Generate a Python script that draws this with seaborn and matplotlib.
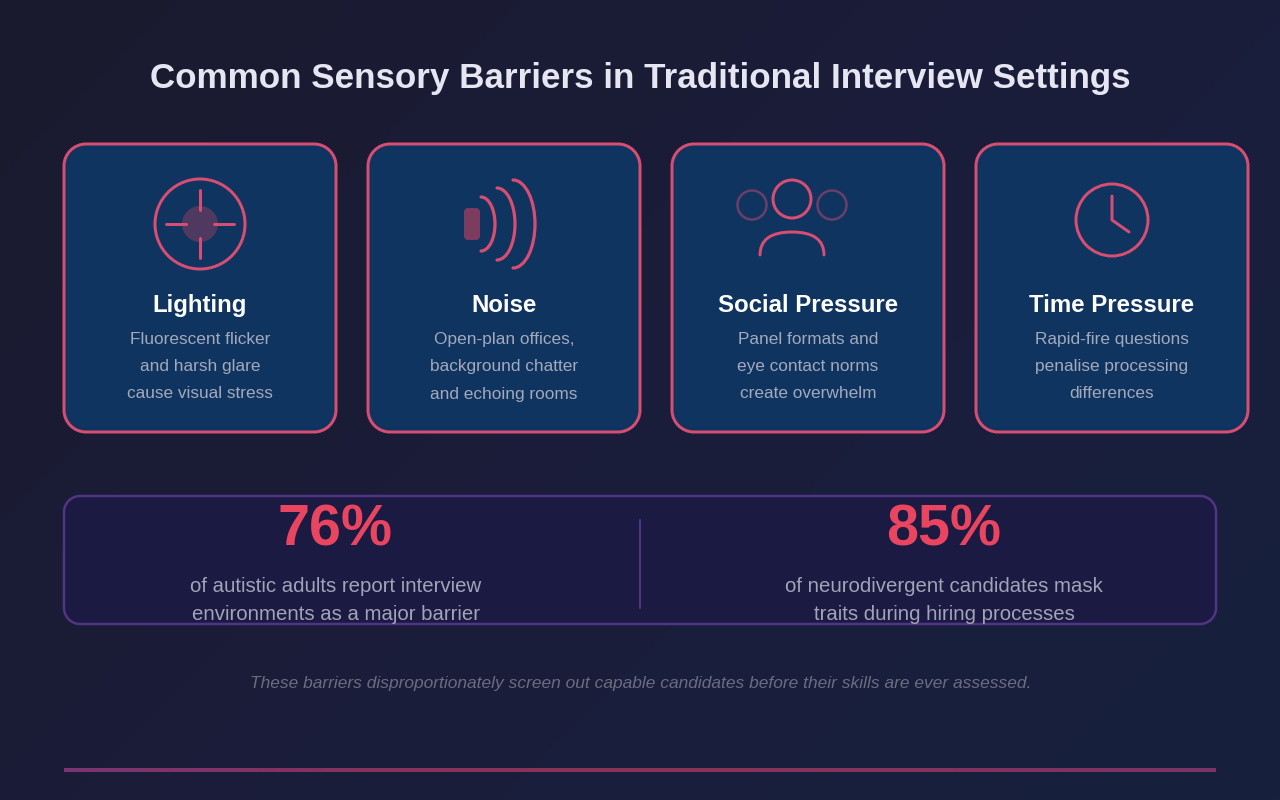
import numpy as np
import matplotlib
matplotlib.use("Agg")
import matplotlib.pyplot as plt
from matplotlib.patches import Circle, Arc, PathPatch
from matplotlib.path import Path
from matplotlib.colors import to_rgb
import seaborn as sns

sns.set_theme(style="dark")
plt.rcParams["font.family"] = ["Liberation Sans", "DejaVu Sans"]

TITLE = "Common Sensory Barriers in Traditional Interview Settings"
card_titles = ["Lighting", "Noise", "Social Pressure", "Time Pressure"]
card_lines = [
    ["Fluorescent flicker", "and harsh glare", "cause visual stress"],
    ["Open-plan offices,", "background chatter", "and echoing rooms"],
    ["Panel formats and", "eye contact norms", "create overwhelm"],
    ["Rapid-fire questions", "penalise processing", "differences"],
]
stat_values = [76, 85]
stat_lines = [
    ["of autistic adults report interview", "environments as a major barrier"],
    ["of neurodivergent candidates mask", "traits during hiring processes"],
]
FOOT = "These barriers disproportionately screen out capable candidates before their skills are ever assessed."

RED = "#e94560"
STROKE = "#d84d72"
PURPLE = "#533483"
CARD = "#0f3460"
BOX = "#1a1a42"
px = 0.72

fig = plt.figure(figsize=(12.8, 8), dpi=100)
ax = fig.add_axes([0, 0, 1, 1])
ax.set_xlim(0, 1280)
ax.set_ylim(800, 0)
ax.axis("off")

# background gradient
n = 256
u, v = np.meshgrid(np.linspace(0, 1, n), np.linspace(0, 1, n))
t = (u * 1280 + v * 800) / 2080
stops = np.array([to_rgb("#1a1a2e"), to_rgb("#1a1d3a"), to_rgb("#16213e")])
bg = np.dstack([np.interp(t, [0, 0.5, 1], stops[:, i]) for i in range(3)])
ax.imshow(bg, extent=(0, 1280, 800, 0), aspect="auto", zorder=0)


def rbox(x0, y0, x1, y1, r, fc, ec, lw, alpha=1.0, zorder=2):
    k = 0.5523 * r
    verts = [
        (x0 + r, y0), (x1 - r, y0),
        (x1 - r + k, y0), (x1, y0 + r - k), (x1, y0 + r),
        (x1, y1 - r),
        (x1, y1 - r + k), (x1 - r + k, y1), (x1 - r, y1),
        (x0 + r, y1),
        (x0 + r - k, y1), (x0, y1 - r + k), (x0, y1 - r),
        (x0, y0 + r),
        (x0, y0 + r - k), (x0 + r - k, y0), (x0 + r, y0),
        (x0 + r, y0),
    ]
    C = Path.CURVE4
    L = Path.LINETO
    codes = [Path.MOVETO, L, C, C, C, L, C, C, C, L, C, C, C, L, C, C, C, Path.CLOSEPOLY]
    ax.add_patch(PathPatch(Path(verts, codes), fc=fc, ec=ec, lw=lw * px, alpha=alpha, zorder=zorder))


def line(xs, ys, color=STROKE, lw=3, alpha=1.0):
    ax.plot(xs, ys, color=color, lw=lw * px, alpha=alpha, solid_capstyle="round",
            solid_joinstyle="round", zorder=4)


def ring(x, y, r, lw=3, alpha=1.0, color=STROKE):
    ax.add_patch(Circle((x, y), r, fill=False, ec=color, lw=lw * px, alpha=alpha, zorder=4))


def label(x, y, s, size, color, **kw):
    ax.text(x, y, s, fontsize=size * px, color=color, ha="center", va="baseline", zorder=5, **kw)


label(640.5, 88, TITLE, 35, "#e6e6f2", fontweight="bold")

centers = [200, 504, 808, 1112]
for cx, head, body in zip(centers, card_titles, card_lines):
    rbox(cx - 136, 144, cx + 136, 432, 22, CARD, STROKE, 3)
    label(cx, 312, head, 24, "#ffffff", fontweight="bold")
    for y, s in zip([344, 371.5, 398.5], body):
        label(cx, y, s, 17.3, "#a3a9bb")

# lighting icon
cx = centers[0]
ax.add_patch(Circle((cx, 224), 18, fc=RED, alpha=0.3, ec="none", zorder=3))
ring(cx, 224, 45)
line([cx, cx], [190, 210]); line([cx, cx], [238, 258])
line([166, 186], [224, 224]); line([214, 234], [224, 224])

# noise icon
rbox(464, 208, 480, 240, 4, RED, "none", 0, alpha=0.5, zorder=3)
for x0, rx, ry in [(481, 14, 27), (497, 18, 36), (513, 22, 44)]:
    ax.add_patch(Arc((x0, 224), 2 * rx, 2 * ry, theta1=-90, theta2=90, ec=STROKE,
                     lw=3.2 * px, capstyle="round", zorder=4))

# social icon
ring(792, 199, 19)
ring(752, 205, 14.5, lw=2.5, alpha=0.45)
ring(832, 205, 14.5, lw=2.5, alpha=0.45)
ax.add_patch(PathPatch(Path([(760, 255), (760, 232), (792, 232), (824, 232), (824, 255)],
                            [Path.MOVETO, Path.CURVE3, Path.CURVE3, Path.CURVE3, Path.CURVE3]),
                       fill=False, ec=STROKE, lw=3 * px, capstyle="round", zorder=4))

# clock icon
ring(1112, 220, 36)
line([1112, 1112, 1129], [196, 220, 232])

# statistics panel
rbox(64, 496, 1216, 624, 16, BOX, PURPLE, 2.5)
line([640, 640], [520, 608], color=PURPLE, lw=2)
for x, val, lines in zip([335.5, 943.5], stat_values, stat_lines):
    label(x, 545, f"{val}%", 57.5, RED, fontweight="bold")
    for y, s in zip([591.5, 620.5], lines):
        label(x + 0.5, y, s, 20.4, "#a3a3b8")

label(640.5, 688, FOOT, 17.35, "#6c6c80", style="italic")

# bottom rule
pal = np.array(sns.blend_palette(["#7a3572", "#85325e", "#8a3358", "#85325e", "#7a3466"], 256))[None, :, :]
ax.imshow(pal, extent=(64, 1216, 772, 768), aspect="auto", zorder=3)
ax.set_xlim(0, 1280)
ax.set_ylim(800, 0)

fig.savefig("out.png", dpi=100)
